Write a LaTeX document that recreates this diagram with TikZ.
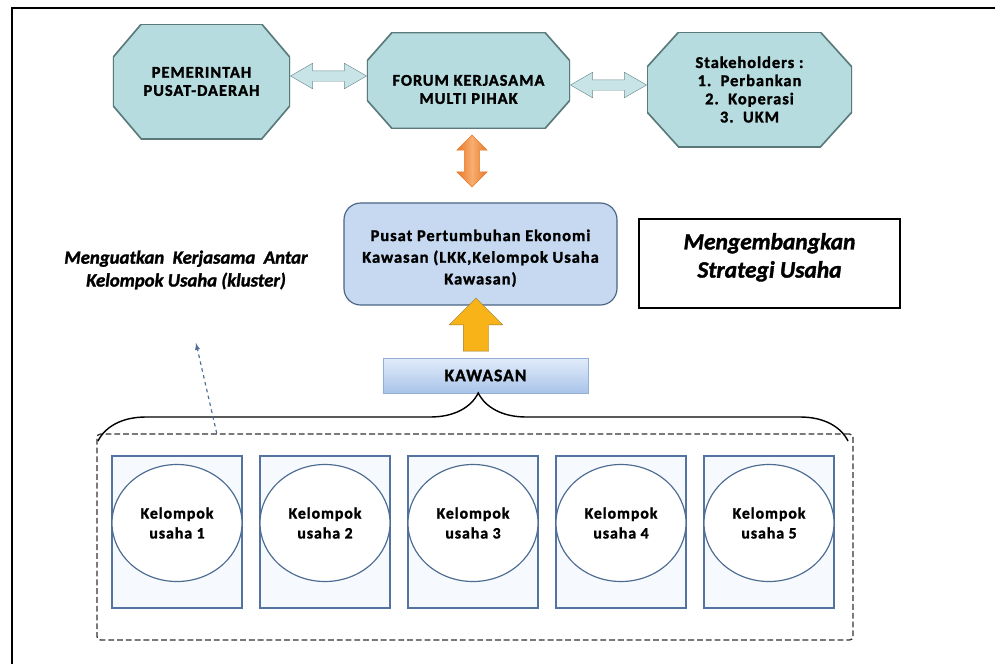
\documentclass[tikz,border=0pt]{standalone}
\usepackage{fontspec}
\setmainfont{Carlito}[BoldFeatures={FakeBold=1.5},BoldItalicFeatures={FakeBold=1.5}]
\newfontfamily\spacedfont{Carlito}[LetterSpace=6,BoldFeatures={FakeBold=1.5}]
\usetikzlibrary{shapes.misc,shapes.arrows,shapes.geometric,decorations.pathreplacing,calc}

\definecolor{octfill}{HTML}{B6DCDF}
\definecolor{octline}{HTML}{5A7A7A}
\definecolor{arrfill}{HTML}{C8E4E6}
\definecolor{arrline}{HTML}{6E8E90}
\definecolor{pusatfill}{HTML}{C6D9F0}
\definecolor{pusatline}{HTML}{4B6584}
\definecolor{kawtop}{HTML}{E2ECFA}
\definecolor{kawbot}{HTML}{A9C4E9}
\definecolor{kawline}{HTML}{94B0D6}
\definecolor{upyellow}{HTML}{F7B318}
\definecolor{upline}{HTML}{9C7A2A}
\definecolor{orangedark}{HTML}{E8782A}
\definecolor{orangelight}{HTML}{F7AE70}
\definecolor{boxline}{HTML}{5374A0}
\definecolor{boxfill}{HTML}{F6F9FD}
\definecolor{ellline}{HTML}{4D6C91}
\definecolor{dashline}{HTML}{333333}
\definecolor{hintblue}{HTML}{4E6F98}

\tikzset{
  octbox/.style 2 args={rectangle, align=center, inner sep=0pt,
    font=\spacedfont\bfseries\fontsize{14}{15.5}\selectfont,
    path picture={\draw[octline, fill=octfill, line width=1.4pt]
      let \p1=(path picture bounding box.south west), \p2=(path picture bounding box.north east) in
      (\x1+#1,\y2) -- (\x2-#1,\y2) -- (\x2,\y2-#2) -- (\x2,\y1+#2) -- (\x2-#1,\y1)
      -- (\x1+#1,\y1) -- (\x1,\y1+#2) -- (\x1,\y2-#2) -- cycle;}},
  linkarrow/.style={double arrow, draw=arrline, fill=arrfill, double arrow tip angle=60,
    minimum height=2.28cm, inner sep=0.15cm, double arrow head extend=0.225cm},
  kelbox/.style={draw=boxline, fill=boxfill, line width=1pt, minimum width=3.9cm, minimum height=4.56cm},
  kelell/.style={ellipse, draw=ellline, fill=white, line width=1pt, minimum width=3.9cm,
    minimum height=3.51cm, align=center, font=\spacedfont\bfseries\fontsize{13.5}{17}\selectfont},
  titletext/.style={align=center, font=\bfseries\itshape\fontsize{16}{19.5}\selectfont}
}

\begin{document}
\begin{tikzpicture}[x=0.03cm, y=-0.03cm]
  \useasboundingbox (0,0) rectangle (995,664);
  % frame
  \draw[line width=2.2pt] (12,664) -- (12,8) -- (995,8);

  % forum and partners
  \node[octbox={0.85cm}{1.0cm}, minimum width=5.31cm, minimum height=3.45cm]
    (pd) at (201.5,81.5) {PEMERINTAH\\PUSAT-DAERAH};
  \node[octbox={0.75cm}{0.85cm}, minimum width=6.09cm, minimum height=2.88cm, text height=40pt]
    (forum) at (468.5,80.5) {FORUM KERJASAMA\\MULTI PIHAK};
  \node[octbox={0.95cm}{1.05cm}, minimum width=6.15cm, minimum height=3.45cm]
    (stake) at (749.5,89.5) {Stakeholders :\\1.\ \ Perbankan\\2.\ \ Koperasi\\3.\ \ UKM};

  \node[linkarrow] (ln1) at ($(pd.east)!0.5!(forum.west)+(0,-5)$) {};
  \node[linkarrow] (ln2) at ($(forum.east)!0.5!(stake.west)$) {};

  % growth centre
  \node[draw=pusatline, fill=pusatfill, rounded corners=0.5cm, line width=1pt, align=center,
    minimum width=8.19cm, minimum height=3.06cm, text height=54pt,
    font=\spacedfont\bfseries\fontsize{14}{18.5}\selectfont]
    (pusat) at (480.5,254) {Pusat Pertumbuhan Ekonomi\\Kawasan (LKK,Kelompok Usaha\\Kawasan)};
  \node[double arrow, rotate=90, draw=orangedark, left color=orangedark, right color=orangedark,
    middle color=orangelight, minimum height=1.56cm, inner sep=0.22cm,
    double arrow head extend=0.23cm]
    (link) at (472,161) {};

  \node[draw=kawline, top color=kawtop, bottom color=kawbot, minimum width=6.15cm,
    minimum height=1.05cm, font=\spacedfont\bfseries\fontsize{15}{18}\selectfont]
    (kaw) at (485.5,375.5) {KAWASAN};
  \node[single arrow, rotate=90, draw=upline, fill=upyellow, minimum height=1.59cm,
    inner sep=0.375cm, single arrow head extend=0.42cm]
    (up) at (476,331) {};

  \node[draw, line width=1.2pt, minimum width=7.83cm, minimum height=2.67cm, text depth=14pt,
    titletext, font=\bfseries\itshape\fontsize{20}{24}\selectfont]
    (strat) at (769.5,263.5) {Mengembangkan\\Strategi Usaha};
  \node[titletext] (kerja) at (186,270) {Menguatkan\ \ Kerjasama\ \ Antar\\Kelompok Usaha (kluster)};

  % kawasan members
  \node[draw=dashline, dash pattern=on 5pt off 2.5pt, line width=1.1pt, rounded corners=3pt,
    minimum width=22.68cm, minimum height=6.18cm] (cont) at (475,537) {};
  \foreach \i in {1,...,5} {
    \node[kelbox] (box\i) at ({177+148*(\i-1)},532) {};
    \node[kelell] (kel\i) at ({177+148*(\i-1)},523) {Kelompok\\usaha \i};
  }

  \coordinate (bl) at (98,441);
  \coordinate (br) at (848,441);
  \draw[line width=1.2pt, decorate, decoration={brace, amplitude=1.44cm, aspect=0.507}] (bl) -- (br);

  \coordinate (hint) at (196,343);
  \draw[hintblue, line width=1pt, dashed, -latex] ($(cont.north west)!0.159!(cont.north east)$) -- (hint);
\end{tikzpicture}
\end{document}
